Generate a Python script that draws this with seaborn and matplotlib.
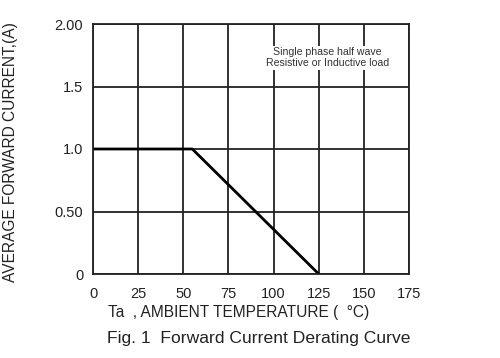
import numpy as np
import pandas as pd
import matplotlib
matplotlib.use("Agg")
import matplotlib.pyplot as plt
import seaborn as sns

# derating curve
temperature = [0, 55, 125]
current = [1.0, 1.0, 0.0]

x_ticks = [0, 25, 50, 75, 100, 125, 150, 175]
y_ticks = [0, 0.5, 1.0, 1.5, 2.0]
y_tick_labels = ["0", "0.50", "1.0", "1.5", "2.00"]

sns.set_style("white")
plt.rcParams['font.family'] = ['Liberation Sans', 'DejaVu Sans']

df = pd.DataFrame({'Ta': temperature, 'Io': current})

fig = plt.figure(figsize=(5, 3.58), dpi=100)
ax = fig.add_axes([93 / 500, 1 - 274 / 358, 316 / 500, 250 / 358])

ax.set_xlim(0, 175)
ax.set_ylim(0, 2.0)
ax.set_xticks(x_ticks)
ax.set_yticks(y_ticks)
ax.set_yticklabels(y_tick_labels)
ax.grid(True, color='#222222', linewidth=1.3)
ax.set_axisbelow(True)
for s in ax.spines.values():
    s.set_color('#222222')
    s.set_linewidth(1.3)
ax.tick_params(length=0, labelsize=10.5, colors='#222222')
ax.tick_params(axis='y', pad=7)
ax.tick_params(axis='x', pad=9)

sns.lineplot(data=df, x='Ta', y='Io', color='black', linewidth=2, ax=ax)

ax.text(130, 1.73, "Single phase half wave\nResistive or Inductive load",
        ha='center', va='center', fontsize=7.6, color='#333333', linespacing=1.15,
        bbox=dict(facecolor='white', edgecolor='none', pad=1))

ax.set_xlabel("Ta  , AMBIENT TEMPERATURE (  °C)", fontsize=11.2, color='#222222')
ax.xaxis.set_label_coords((239 - 93) / 316, -(313 - 274) / 250)
ax.xaxis.label.set_va('center')
ax.set_ylabel("AVERAGE FORWARD CURRENT,(A)", fontsize=11.2, color='#222222')
ax.yaxis.set_label_coords(-(93 - 11) / 316, (274 - 152) / 250)
ax.yaxis.label.set_va('center')

fig.text(259 / 500, 1 - 339 / 358, "Fig. 1  Forward Current Derating Curve",
         ha='center', va='center', fontsize=12.6, color='#222222')

fig.savefig("out.png", dpi=100)
